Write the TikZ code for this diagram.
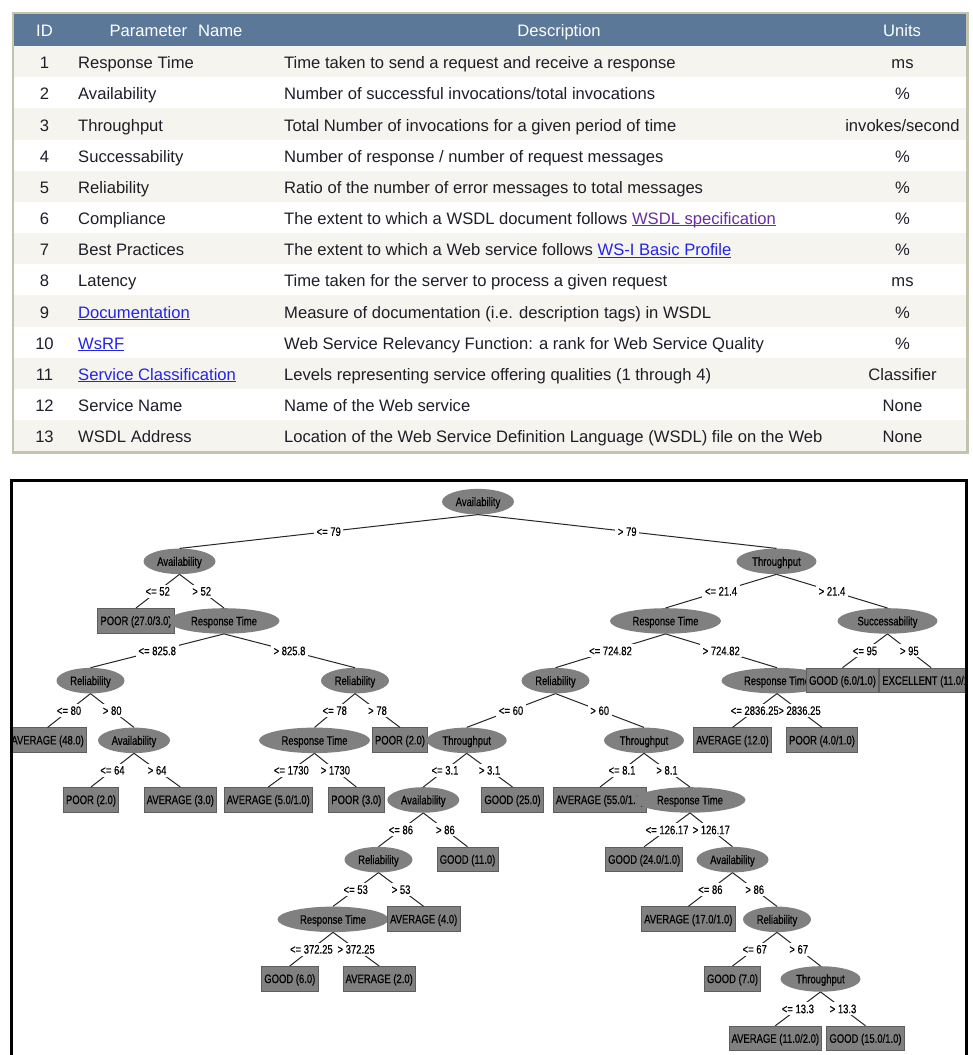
\documentclass[tikz,border=0pt]{standalone}
\usepackage{fontspec}
\setmainfont{Liberation Sans}
\newfontfamily\treefont[FakeStretch=0.77,FakeBold=0.4]{Liberation Sans}
\usetikzlibrary{shapes.geometric}
\definecolor{hdr}{HTML}{5B7899}
\definecolor{rowlt}{HTML}{F5F4EE}
\definecolor{tborder}{HTML}{C4C4AE}
\definecolor{txt}{HTML}{1E1E28}
\definecolor{lnkblue}{HTML}{2424E6}
\definecolor{lnkvis}{HTML}{6A2D9E}
\definecolor{nodegray}{HTML}{808080}
\definecolor{boxedge}{HTML}{5E5E5E}
\newcommand\lnk[2]{\textcolor{#1}{\setbox0=\hbox{#2}\rlap{\rule[-1.8pt]{\wd0}{1pt}}\box0}}
\newcommand\tabrow[5]{%
  \pgfmathsetmacro\rowbase{62.7+31.17*(#1-1)+6}
  \node[tcell, anchor=base] (id#1) at (44.5,\rowbase) {#2};
  \node[tcell, anchor=base west] (nm#1) at (78,\rowbase) {#3};
  \node[tcell, anchor=base west] (ds#1) at (284,\rowbase) {#4};
  \node[tcell, anchor=base] (un#1) at (902.5,\rowbase) {#5};
}
\begin{document}
\begin{tikzpicture}[x=1pt,y=-1pt,
  tcell/.style={font=\fontsize{16.6}{20}\selectfont, text=txt, inner sep=0pt},
  hcell/.style={font=\fontsize{16.6}{20}\selectfont, text=white, inner sep=0pt, anchor=base},
  tf/.style={font=\treefont\fontsize{12.3}{14}\selectfont, text height=8.8pt, text depth=0pt},
  ell/.style={tf, ellipse, fill=nodegray, draw=none, minimum height=25.5pt, inner sep=0pt, anchor=north},
  eav/.style={ell, minimum width=72pt},
  erel/.style={ell, minimum width=68pt},
  ethr/.style={ell, minimum width=80pt},
  esuc/.style={ell, minimum width=100pt},
  ert/.style={ell, minimum width=111pt},
  bx/.style={tf, rectangle, fill=nodegray, draw=boxedge, line width=0.8pt, minimum height=24.5pt, inner xsep=2.6pt, inner ysep=0pt, anchor=north},
  edge/.style={draw=black!85, line width=1pt},
  lbl/.style={tf, fill=white, inner xsep=2.6pt, inner ysep=2pt}
]
\useasboundingbox (0,0) rectangle (973,1055);
\fill[white] (0,0) rectangle (973,1055);
% ---------------- table ----------------
\fill[hdr] (13,13) rectangle (967.5,46);
\foreach \i in {1,3,...,13} \fill[rowlt] (14,{46+31.17*(\i-1)}) rectangle (966.5,{46+31.17*\i});
\draw[tborder, line width=2.5pt] (13,13) rectangle (967.5,452.5);
\node[hcell] (hid) at (44.5,36.8) {ID};
\node[hcell] (hname) at (176,36.8) {Parameter\hspace{11pt}Name};
\node[hcell] (hdesc) at (559,36.8) {Description};
\node[hcell] (hunit) at (902,36.8) {Units};
\tabrow{1}{1}{Response Time}{Time taken to send a request and receive a response}{ms}
\tabrow{2}{2}{Availability}{Number of successful invocations/total invocations}{\%}
\tabrow{3}{3}{Throughput}{Total Number of invocations for a given period of time}{invokes/second}
\tabrow{4}{4}{Successability}{Number of response / number of request messages}{\%}
\tabrow{5}{5}{Reliability}{Ratio of the number of error messages to total messages}{\%}
\tabrow{6}{6}{Compliance}{The extent to which a WSDL document follows \lnk{lnkvis}{WSDL specification}}{\%}
\tabrow{7}{7}{Best Practices}{The extent to which a Web service follows \lnk{lnkblue}{WS-I Basic Profile}}{\%}
\tabrow{8}{8}{Latency}{Time taken for the server to process a given request}{ms}
\tabrow{9}{9}{\lnk{lnkblue}{Documentation}}{Measure of documentation (i.e. description tags) in WSDL}{\%}
\tabrow{10}{10}{\lnk{lnkblue}{WsRF}}{Web Service Relevancy Function: a rank for Web Service Quality}{\%}
\tabrow{11}{11}{\lnk{lnkblue}{Service Classification}}{Levels representing service offering qualities (1 through 4)}{Classifier}
\tabrow{12}{12}{Service Name}{Name of the Web service}{None}
\tabrow{13}{13}{WSDL Address}{Location of the Web Service Definition Language (WSDL) file on the Web}{None}
% ---------------- tree ----------------
\begin{scope}
\clip (12.7,481.7) rectangle (964.9,1055);
% level 0
\node[eav] (r0) at (478,488.7) {Availability};
% level 1
\node[eav] (a1) at (179.5,548.4) {Availability};
\node[ethr] (t1) at (776.5,548.4) {Throughput};
% level 2
\node[bx] (p2) at (136,608) {POOR (27.0/3.0)};
\node[ert] (rt2) at (224,608) {Response Time};
\node[ert] (rt2b) at (665.5,608) {Response Time};
\node[esuc] (s2) at (887.5,608) {Successability};
% level 3
\node[erel] (rel3a) at (90.5,667.7) {Reliability};
\node[erel] (rel3b) at (355,667.7) {Reliability};
\node[erel] (rel3c) at (555.5,667.7) {Reliability};
\node[ert] (rt3) at (777,667.7) {Response Time};
\node[bx] (g3) at (842.5,667.7) {GOOD (6.0/1.0)};
\node[bx, anchor=north west] (e3) at (879.3,667.7) {EXCELLENT (11.0/1.0)};
% level 4
\node[bx] (av4a) at (47.6,727.4) {AVERAGE (48.0)};
\node[eav] (a4) at (134,727.4) {Availability};
\node[ert] (rt4) at (314.5,727.4) {Response Time};
\node[bx] (p4) at (400,727.4) {POOR (2.0)};
\node[ethr] (t4a) at (466.7,727.4) {Throughput};
\node[ethr] (t4b) at (644,727.4) {Throughput};
\node[bx] (av4b) at (732.5,727.4) {AVERAGE (12.0)};
\node[bx] (p4b) at (822,727.4) {POOR (4.0/1.0)};
% level 5
\node[bx] (p5) at (91,787) {POOR (2.0)};
\node[bx] (av5) at (180.3,787) {AVERAGE (3.0)};
\node[bx] (av5b) at (268.3,787) {AVERAGE (5.0/1.0)};
\node[bx] (p5b) at (356.3,787) {POOR (3.0)};
\node[eav] (a5) at (423.3,787) {Availability};
\node[bx] (g5) at (512.5,787) {GOOD (25.0)};
\node[bx] (av5c) at (600,787) {AVERAGE (55.0/1.0)};
\node[ert] (rt5) at (690,787) {Response Time};
% level 6
\node[erel] (rel6) at (378.5,846.7) {Reliability};
\node[bx] (g6) at (467.5,846.7) {GOOD (11.0)};
\node[bx] (g6b) at (644.2,846.7) {GOOD (24.0/1.0)};
\node[eav] (a6) at (732.5,846.7) {Availability};
% level 7
\node[ert] (rt7) at (333,906.4) {Response Time};
\node[bx] (av7) at (423.7,906.4) {AVERAGE (4.0)};
\node[bx] (av7b) at (688.3,906.4) {AVERAGE (17.0/1.0)};
\node[erel] (rel7) at (777,906.4) {Reliability};
% level 8
\node[bx] (g8) at (289.8,966) {GOOD (6.0)};
\node[bx] (av8) at (379.2,966) {AVERAGE (2.0)};
\node[bx] (g8b) at (732.5,966) {GOOD (7.0)};
\node[ethr] (t8) at (820.5,966) {Throughput};
% level 9
\node[bx] (av9) at (775.3,1025.7) {AVERAGE (11.0/2.0)};
\node[bx] (g9) at (865.5,1025.7) {GOOD (15.0/1.0)};
% edges
\draw[edge] (r0.south) -- node[lbl] {<= 79} (a1.north);
\draw[edge] (r0.south) -- node[lbl] {> 79} (t1.north);
\draw[edge] (a1.south) -- node[lbl] {<= 52} (p2.north);
\draw[edge] (a1.south) -- node[lbl] {> 52} (rt2.north);
\draw[edge] (rt2.south) -- node[lbl] {<= 825.8} (rel3a.north);
\draw[edge] (rt2.south) -- node[lbl] {> 825.8} (rel3b.north);
\draw[edge] (rel3a.south) -- node[lbl] {<= 80} (av4a.north);
\draw[edge] (rel3a.south) -- node[lbl] {> 80} (a4.north);
\draw[edge] (a4.south) -- node[lbl] {<= 64} (p5.north);
\draw[edge] (a4.south) -- node[lbl] {> 64} (av5.north);
\draw[edge] (rel3b.south) -- node[lbl] {<= 78} (rt4.north);
\draw[edge] (rel3b.south) -- node[lbl] {> 78} (p4.north);
\draw[edge] (rt4.south) -- node[lbl] {<= 1730} (av5b.north);
\draw[edge] (rt4.south) -- node[lbl] {> 1730} (p5b.north);
\draw[edge] (t1.south) -- node[lbl] {<= 21.4} (rt2b.north);
\draw[edge] (t1.south) -- node[lbl] {> 21.4} (s2.north);
\draw[edge] (rt2b.south) -- node[lbl] {<= 724.82} (rel3c.north);
\draw[edge] (rt2b.south) -- node[lbl] {> 724.82} (rt3.north);
\draw[edge] (s2.south) -- node[lbl] {<= 95} (g3.north);
\draw[edge] (s2.south) -- node[lbl] {> 95} (e3.north);
\draw[edge] (rt3.south) -- node[lbl, inner xsep=0.3pt] {<= 2836.25} (av4b.north);
\draw[edge] (rt3.south) -- node[lbl, inner xsep=0.3pt] {> 2836.25} (p4b.north);
\draw[edge] (rel3c.south) -- node[lbl] {<= 60} (t4a.north);
\draw[edge] (rel3c.south) -- node[lbl] {> 60} (t4b.north);
\draw[edge] (t4a.south) -- node[lbl] {<= 3.1} (a5.north);
\draw[edge] (t4a.south) -- node[lbl] {> 3.1} (g5.north);
\draw[edge] (t4b.south) -- node[lbl] {<= 8.1} (av5c.north);
\draw[edge] (t4b.south) -- node[lbl] {> 8.1} (rt5.north);
\draw[edge] (a5.south) -- node[lbl] {<= 86} (rel6.north);
\draw[edge] (a5.south) -- node[lbl] {> 86} (g6.north);
\draw[edge] (rel6.south) -- node[lbl] {<= 53} (rt7.north);
\draw[edge] (rel6.south) -- node[lbl] {> 53} (av7.north);
\draw[edge] (rt7.south) -- node[lbl] {<= 372.25} (g8.north);
\draw[edge] (rt7.south) -- node[lbl] {> 372.25} (av8.north);
\draw[edge] (rt5.south) -- node[lbl] {<= 126.17} (g6b.north);
\draw[edge] (rt5.south) -- node[lbl] {> 126.17} (a6.north);
\draw[edge] (a6.south) -- node[lbl] {<= 86} (av7b.north);
\draw[edge] (a6.south) -- node[lbl] {> 86} (rel7.north);
\draw[edge] (rel7.south) -- node[lbl] {<= 67} (g8b.north);
\draw[edge] (rel7.south) -- node[lbl] {> 67} (t8.north);
\draw[edge] (t8.south) -- node[lbl] {<= 13.3} (av9.north);
\draw[edge] (t8.south) -- node[lbl] {> 13.3} (g9.north);
\end{scope}
\draw[black, line width=2.7pt] (11.3,480.3) rectangle (966.2,1070);
\end{tikzpicture}
\end{document}
